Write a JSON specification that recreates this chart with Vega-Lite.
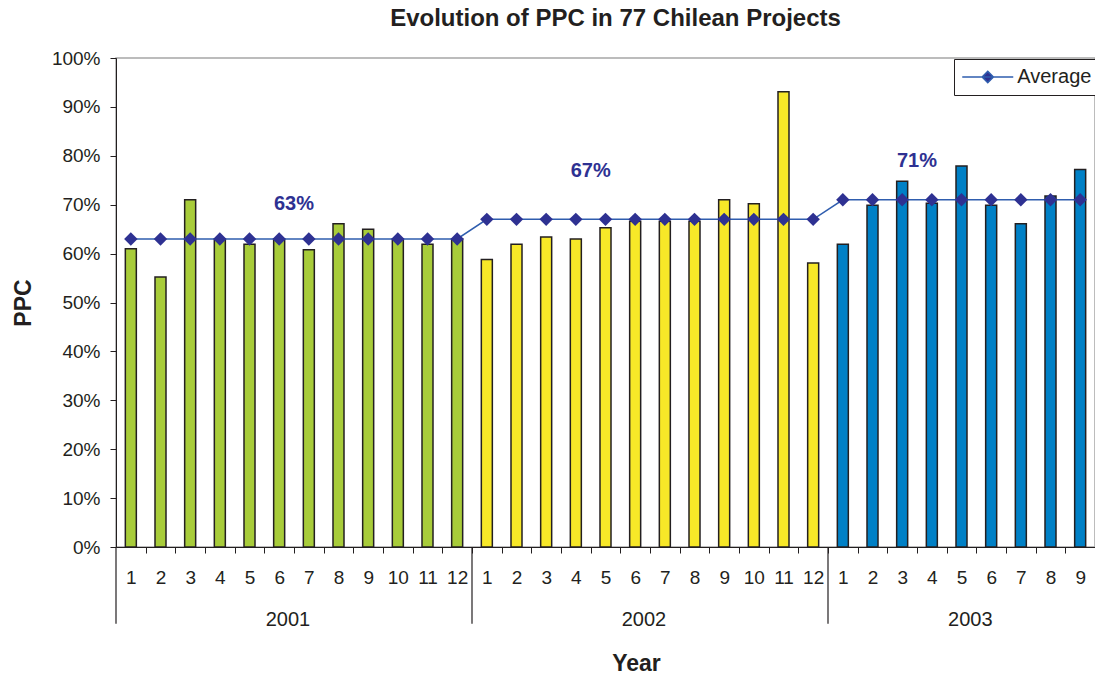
{
  "$schema": "https://vega.github.io/schema/vega-lite/v6.json",
  "autosize": "none",
  "width": 979,
  "height": 489,
  "padding": {"left": 116, "top": 58, "right": 0, "bottom": 131},
  "background": "white",
  "title": {"text": "Evolution of PPC in 77 Chilean Projects", "fontSize": 24, "fontWeight": "bold", "color": "#231F20", "anchor": "middle", "dx": 10, "offset": 18},
  "config": {"view": {"stroke": "#A6A6A6", "strokeWidth": 1.5}, "font": "Liberation Sans"},
  "data": {"values": [
    {"key": "2001-01", "year": "2001", "ppc": 0.61, "avg": 0.63},
    {"key": "2001-02", "year": "2001", "ppc": 0.552, "avg": 0.63},
    {"key": "2001-03", "year": "2001", "ppc": 0.71, "avg": 0.63},
    {"key": "2001-04", "year": "2001", "ppc": 0.63, "avg": 0.63},
    {"key": "2001-05", "year": "2001", "ppc": 0.619, "avg": 0.63},
    {"key": "2001-06", "year": "2001", "ppc": 0.63, "avg": 0.63},
    {"key": "2001-07", "year": "2001", "ppc": 0.608, "avg": 0.63},
    {"key": "2001-08", "year": "2001", "ppc": 0.661, "avg": 0.63},
    {"key": "2001-09", "year": "2001", "ppc": 0.65, "avg": 0.63},
    {"key": "2001-10", "year": "2001", "ppc": 0.63, "avg": 0.63},
    {"key": "2001-11", "year": "2001", "ppc": 0.619, "avg": 0.63},
    {"key": "2001-12", "year": "2001", "ppc": 0.63, "avg": 0.63},
    {"key": "2002-01", "year": "2002", "ppc": 0.588, "avg": 0.67},
    {"key": "2002-02", "year": "2002", "ppc": 0.619, "avg": 0.67},
    {"key": "2002-03", "year": "2002", "ppc": 0.634, "avg": 0.67},
    {"key": "2002-04", "year": "2002", "ppc": 0.63, "avg": 0.67},
    {"key": "2002-05", "year": "2002", "ppc": 0.653, "avg": 0.67},
    {"key": "2002-06", "year": "2002", "ppc": 0.666, "avg": 0.67},
    {"key": "2002-07", "year": "2002", "ppc": 0.666, "avg": 0.67},
    {"key": "2002-08", "year": "2002", "ppc": 0.666, "avg": 0.67},
    {"key": "2002-09", "year": "2002", "ppc": 0.71, "avg": 0.67},
    {"key": "2002-10", "year": "2002", "ppc": 0.702, "avg": 0.67},
    {"key": "2002-11", "year": "2002", "ppc": 0.931, "avg": 0.67},
    {"key": "2002-12", "year": "2002", "ppc": 0.581, "avg": 0.67},
    {"key": "2003-01", "year": "2003", "ppc": 0.619, "avg": 0.71},
    {"key": "2003-02", "year": "2003", "ppc": 0.699, "avg": 0.71},
    {"key": "2003-03", "year": "2003", "ppc": 0.748, "avg": 0.71},
    {"key": "2003-04", "year": "2003", "ppc": 0.703, "avg": 0.71},
    {"key": "2003-05", "year": "2003", "ppc": 0.779, "avg": 0.71},
    {"key": "2003-06", "year": "2003", "ppc": 0.699, "avg": 0.71},
    {"key": "2003-07", "year": "2003", "ppc": 0.661, "avg": 0.71},
    {"key": "2003-08", "year": "2003", "ppc": 0.718, "avg": 0.71},
    {"key": "2003-09", "year": "2003", "ppc": 0.772, "avg": 0.71}
  ]},
  "layer": [
    {
      "mark": {"type": "bar", "width": 11, "stroke": "#231F20", "strokeWidth": 1.5},
      "encoding": {
        "x": {"field": "key", "type": "ordinal",
          "scale": {"paddingInner": 0, "paddingOuter": 0},
          "axis": {"labelExpr": "slice(datum.value, 5, 6) == '0' ? slice(datum.value, 6) : slice(datum.value, 5)", "labelAngle": 0, "labelFontSize": 19, "labelColor": "#231F20", "labelOverlap": false, "tickOffset": 14.83, "labelOffset": -14.83, "tickSize": 6, "tickColor": "#231F20", "domainColor": "#231F20", "labelPadding": 15,
            "title": "Year", "titleFontSize": 23, "titleFontWeight": "bold", "titleColor": "#231F20", "titleX": 520, "titleY": 116, "titleBaseline": "middle"}
        },
        "y": {"field": "ppc", "type": "quantitative", "scale": {"domain": [0, 1]}, "title": "PPC",
          "axis": {"format": ".0%", "values": [0, 0.1, 0.2, 0.3, 0.4, 0.5, 0.6, 0.7, 0.8, 0.9, 1], "grid": false, "labelFontSize": 19, "labelColor": "#231F20", "tickSize": 6, "tickColor": "#231F20", "domainColor": "#231F20", "labelPadding": 10, "titleFontSize": 23, "titleFontWeight": "bold", "titleColor": "#231F20", "titleX": -93, "titleBaseline": "middle"}
        },
        "fill": {"field": "year", "type": "nominal", "scale": {"range": ["#A8CC3A", "#F7E828", "#0080C6"]}, "legend": null}
      }
    },
    {
      "mark": {"type": "line", "strokeWidth": 1.5},
      "encoding": {
        "x": {"field": "key", "type": "ordinal"},
        "y": {"field": "avg", "type": "quantitative", "scale": {"domain": [0, 1]}, "title": "PPC"},
        "stroke": {"datum": "Average", "scale": {"range": ["#2F5DAE"]},
          "legend": {"orient": "none", "legendX": 838, "legendY": 1, "title": null, "strokeColor": "#231F20", "fillColor": "white", "padding": 8, "labelFontSize": 20, "labelColor": "#231F20", "symbolType": "M-3.4,0L3.4,0M0,-0.75L0.75,0L0,0.75L-0.75,0Z", "symbolSize": 225, "symbolOffset": 15.75, "labelOffset": 19.5, "symbolStrokeWidth": 1.5, "symbolFillColor": "#2E3192",
            "encode": {"symbols": {"update": {"fill": {"value": "#2E3192"}, "stroke": {"value": "#2F5DAE"}}}}}
        }
      }
    },
    {
      "mark": {"type": "point", "filled": true, "shape": "diamond", "size": 180, "color": "#2E3192", "opacity": 1},
      "encoding": {
        "x": {"field": "key", "type": "ordinal"},
        "y": {"field": "avg", "type": "quantitative", "scale": {"domain": [0, 1]}, "title": "PPC"}
      }
    },
    {
      "data": {"values": [
        {"key": "2001-06", "label": "63%", "pos": 0.701},
        {"key": "2002-04", "label": "67%", "pos": 0.769},
        {"key": "2003-03", "label": "71%", "pos": 0.789}
      ]},
      "mark": {"type": "text", "fontSize": 20, "fontWeight": "bold", "color": "#2E3192", "baseline": "middle"},
      "encoding": {
        "x": {"field": "key", "type": "ordinal", "bandPosition": 1},
        "y": {"field": "pos", "type": "quantitative", "scale": {"domain": [0, 1]}, "title": "PPC"},
        "text": {"field": "label"}
      }
    },
    {
      "data": {"values": [
        {"start": "2001-01"},
        {"start": "2002-01"},
        {"start": "2003-01"}
      ]},
      "mark": {"type": "rule", "color": "#231F20", "strokeWidth": 1.2},
      "encoding": {
        "x": {"field": "start", "type": "ordinal", "bandPosition": 0},
        "y": {"datum": 0, "type": "quantitative", "scale": {"domain": [0, 1]}, "title": "PPC"},
        "y2": {"datum": -0.157}
      }
    },
    {
      "data": {"values": [
        {"labelkey": "2001-07", "yearname": "2001"},
        {"labelkey": "2002-07", "yearname": "2002"},
        {"labelkey": "2003-06", "yearname": "2003"}
      ]},
      "mark": {"type": "text", "fontSize": 20, "color": "#231F20", "dx": -6, "baseline": "middle"},
      "encoding": {
        "x": {"field": "labelkey", "type": "ordinal", "bandPosition": 0},
        "y": {"datum": -0.15, "type": "quantitative", "scale": {"domain": [0, 1]}, "title": "PPC"},
        "text": {"field": "yearname"}
      }
    }
  ]
}
